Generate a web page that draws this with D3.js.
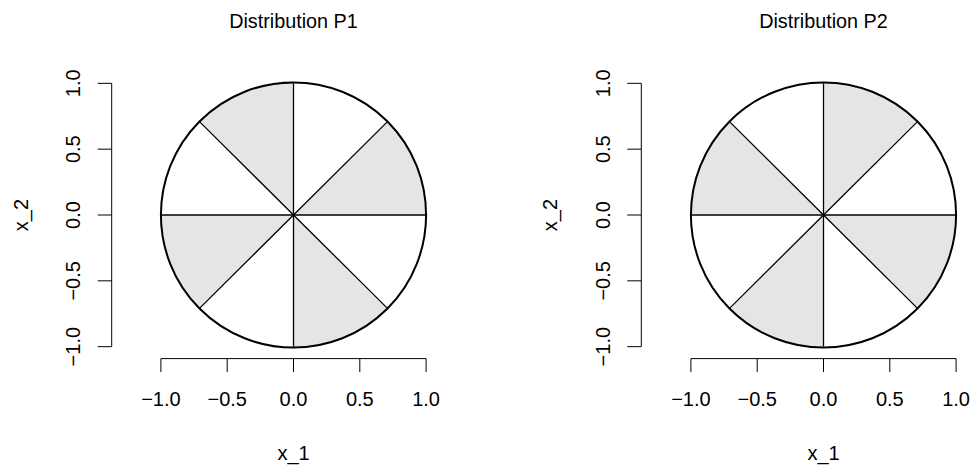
<!DOCTYPE html>
<html>
<head>
<meta charset="utf-8">
<script src="https://cdn.jsdelivr.net/npm/d3@7"></script>
<style>
  html, body { margin: 0; padding: 0; background: #fff; }
  svg text { font-family: "Liberation Sans", Arial, Helvetica, sans-serif; fill: #000; }
</style>
</head>
<body>
<svg id="chart" width="973" height="468"></svg>
<script>
// ---- data ----
const panelTitles = ["Distribution P1", "Distribution P2"];
const sectorStartDeg = [0, 45, 90, 135, 180, 225, 270, 315];   // sector starts (counter-clockwise from +x)
const sectorWidthDeg = 45;
const p1Shaded = [1, 0, 1, 0, 1, 0, 1, 0];   // 1 = shaded sector in P1
const p2Shaded = [0, 1, 0, 1, 0, 1, 0, 1];   // 1 = shaded sector in P2
const tickValues = [-1.0, -0.5, 0.0, 0.5, 1.0];
const xLabel = "x_1";
const yLabel = "x_2";

// ---- layout ----
const svg = d3.select("#chart");
const fontSize = 20;
const titleSize = 19.8;
const shadeColor = "#e5e5e5";
const fmt = d3.format(".1f");

const panels = [
  { title: panelTitles[0], shaded: p1Shaded, cx: 293.5, yAxisX: 111.7 },
  { title: panelTitles[1], shaded: p2Shaded, cx: 823.5, yAxisX: 641.3 }
];

const half = 132.6;     // pixels per unit
const cy = 215;
const xAxisY = 358.6;

panels.forEach(p => {
  const g = svg.append("g");
  const x = d3.scaleLinear().domain([-1, 1]).range([p.cx - half, p.cx + half]);
  const y = d3.scaleLinear().domain([-1, 1]).range([cy + half * 0.993, cy - half * 0.993]);
  const r = x(1) - x(0);

  // sectors
  const arc = d3.arc().innerRadius(0).outerRadius(r);
  g.selectAll("path.sector")
    .data(sectorStartDeg.map((s, i) => ({ s, shaded: p.shaded[i] })))
    .join("path")
    .attr("class", "sector")
    .attr("transform", `translate(${x(0)},${y(0)})`)
    .attr("d", d => arc({
      startAngle: Math.PI / 2 - (d.s + sectorWidthDeg) * Math.PI / 180,
      endAngle: Math.PI / 2 - d.s * Math.PI / 180
    }))
    .attr("fill", d => d.shaded ? shadeColor : "#fff")
    .attr("stroke", "none");

  // radial lines
  g.selectAll("line.ray")
    .data(sectorStartDeg)
    .join("line")
    .attr("class", "ray")
    .attr("x1", x(0)).attr("y1", y(0))
    .attr("x2", d => x(Math.cos(d * Math.PI / 180)))
    .attr("y2", d => y(Math.sin(d * Math.PI / 180)))
    .attr("stroke", "#000").attr("stroke-width", 1.3);

  // circle
  g.append("circle")
    .attr("cx", x(0)).attr("cy", y(0)).attr("r", r)
    .attr("fill", "none").attr("stroke", "#000").attr("stroke-width", 2);

  // x axis
  const xa = g.append("g").attr("transform", `translate(0,${xAxisY})`);
  xa.append("line")
    .attr("x1", x(tickValues[0])).attr("x2", x(tickValues[tickValues.length - 1]))
    .attr("stroke", "#000").attr("stroke-width", 1);
  xa.selectAll("line.tick").data(tickValues).join("line").attr("class", "tick")
    .attr("x1", d => x(d)).attr("x2", d => x(d)).attr("y1", 0).attr("y2", 13.5)
    .attr("stroke", "#000").attr("stroke-width", 1);
  xa.selectAll("text").data(tickValues).join("text")
    .attr("x", d => x(d)).attr("y", 47.8)
    .attr("text-anchor", "middle").style("font-size", fontSize + "px")
    .text(d => fmt(d));

  // y axis
  const ya = g.append("g").attr("transform", `translate(${p.yAxisX},0)`);
  ya.append("line")
    .attr("y1", y(tickValues[0])).attr("y2", y(tickValues[tickValues.length - 1]))
    .attr("stroke", "#000").attr("stroke-width", 1);
  ya.selectAll("line.tick").data(tickValues).join("line").attr("class", "tick")
    .attr("y1", d => y(d)).attr("y2", d => y(d)).attr("x1", 0).attr("x2", -14)
    .attr("stroke", "#000").attr("stroke-width", 1);
  ya.selectAll("text").data(tickValues).join("text")
    .attr("transform", d => `translate(-31.5,${y(d)}) rotate(-90)`)
    .attr("text-anchor", "middle").style("font-size", fontSize + "px")
    .text(d => fmt(d));

  // axis titles
  g.append("text")
    .attr("x", x(0)).attr("y", 459.5)
    .attr("text-anchor", "middle").style("font-size", fontSize + "px")
    .text(xLabel);
  g.append("text")
    .attr("transform", `translate(${p.yAxisX - 84},${y(0)}) rotate(-90)`)
    .attr("text-anchor", "middle").style("font-size", fontSize + "px")
    .text(yLabel);

  // title
  g.append("text")
    .attr("x", x(0)).attr("y", 28.3)
    .attr("text-anchor", "middle").style("font-size", titleSize + "px")
    .text(p.title);
});
</script>
</body>
</html>
